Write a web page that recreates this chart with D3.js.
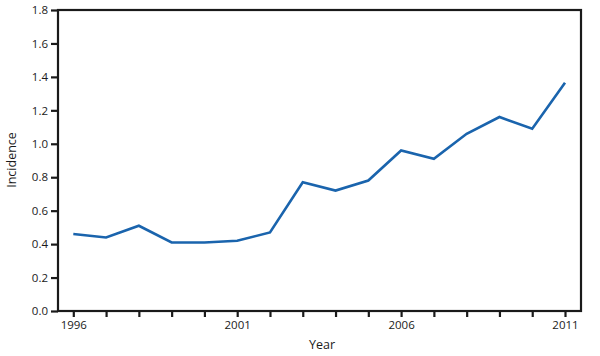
<!DOCTYPE html>
<html><head><meta charset="utf-8">
<script src="https://cdn.jsdelivr.net/npm/d3@7"></script>
<style>body{margin:0;background:#fff}svg{display:block}</style>
</head><body>
<svg id="c" width="600" height="356"></svg>
<script>
const years = [1996,1997,1998,1999,2000,2001,2002,2003,2004,2005,2006,2007,2008,2009,2010,2011];
const incidence = [0.46,0.44,0.51,0.41,0.41,0.42,0.47,0.77,0.72,0.78,0.96,0.91,1.06,1.16,1.09,1.365];
const yTicks = [0,0.2,0.4,0.6,0.8,1.0,1.2,1.4,1.6,1.8];
const xLabelYears = [1996,2001,2006,2011];

const svg = d3.select("#c");
const L = 58, R = 581, T = 10, B = 311;
const x = d3.scaleLinear().domain([1996,2011]).range([73.3,565]);
const y = d3.scaleLinear().domain([0,1.8]).range([B,T]);
const font = "'Open Sans', 'Noto Sans', sans-serif";
const ink = "#1a1a1a";

// frame
svg.append("rect").attr("x",L).attr("y",T).attr("width",R-L).attr("height",B-T)
  .attr("fill","none").attr("stroke",ink).attr("stroke-width",2.2);

const yAxis = svg.append("g").attr("transform",`translate(${L},0)`)
  .call(d3.axisLeft(y).tickValues(yTicks).tickFormat(d3.format(".1f")).tickSize(7).tickPadding(3));
const xAxis = svg.append("g").attr("transform",`translate(0,${B})`)
  .call(d3.axisBottom(x).tickValues(years).tickFormat(d => xLabelYears.includes(d) ? String(d) : "").tickSize(6).tickPadding(4));
[yAxis,xAxis].forEach(g=>{
  g.select(".domain").remove();
  g.selectAll("line").attr("stroke",ink).attr("stroke-width",2.2);
  g.selectAll("text").attr("fill",ink).style("font-family",font).style("font-size","11.5px");
});

// line
svg.append("path").datum(years.map((yr,i)=>[yr,incidence[i]]))
  .attr("fill","none").attr("stroke","#1a64ad").attr("stroke-width",2.6)
  .attr("stroke-linejoin","miter")
  .attr("d", d3.line().x(d=>x(d[0])).y(d=>y(d[1])));

// axis titles
svg.append("text").attr("x",322).attr("y",349).attr("text-anchor","middle")
  .attr("fill",ink).style("font-family",font).style("font-size","12.5px").text("Year");
svg.append("text").attr("transform","translate(16,160) rotate(-90)").attr("text-anchor","middle")
  .attr("fill",ink).style("font-family",font).style("font-size","12.5px").text("Incidence");
</script>
</body></html>
